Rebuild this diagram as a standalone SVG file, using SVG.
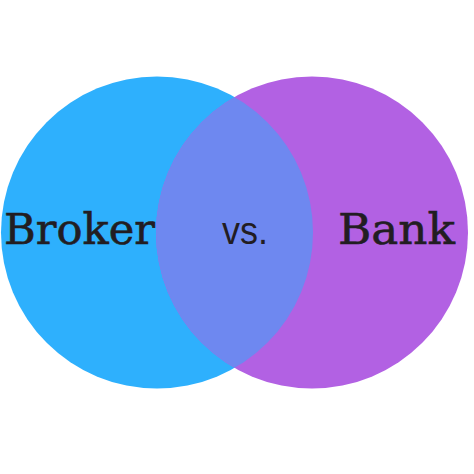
<svg xmlns="http://www.w3.org/2000/svg" width="474" height="474" viewBox="0 0 474 474">
<defs>
<clipPath id="clipL"><circle cx="157" cy="232.5" r="156"/></clipPath>
<style>
.lbl{font-family:"DejaVu Serif","Liberation Serif",serif;font-size:43px;fill:#221d22;stroke:#221d22;stroke-width:0.6px}
.vs{font-family:"Liberation Sans",Arial,sans-serif;font-size:39px;fill:#221d22}
</style>
</defs>
<rect width="474" height="474" fill="#ffffff"/>
<g id="broker">
<circle cx="157" cy="232.5" r="156" fill="#2eb0fd"/>
</g>
<g id="bank">
<circle cx="312" cy="232.5" r="156" fill="#b261e3"/>
</g>
<g id="overlap">
<circle cx="312" cy="232.5" r="156" fill="#6e88f0" clip-path="url(#clipL)"/>
</g>
<text class="lbl" x="4" y="244" textLength="151" lengthAdjust="spacingAndGlyphs">Broker</text>
<text class="vs" x="222" y="244" textLength="46" lengthAdjust="spacingAndGlyphs">vs.</text>
<text class="lbl" x="338" y="244" textLength="117" lengthAdjust="spacingAndGlyphs">Bank</text>
</svg>
